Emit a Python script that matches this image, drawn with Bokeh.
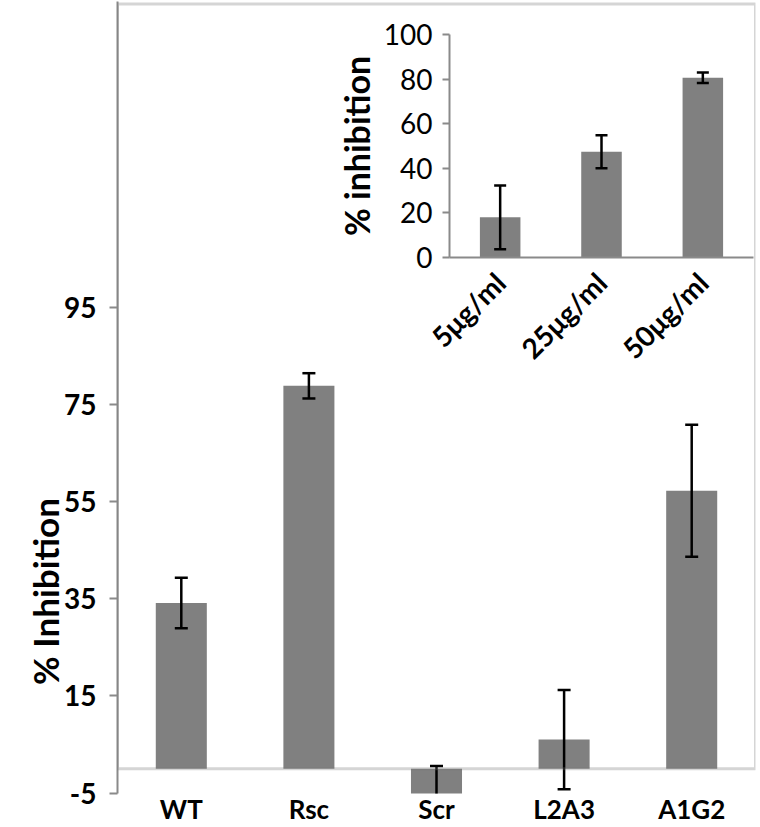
from math import pi
from bokeh.plotting import figure
from bokeh.models import (FactorRange, Range1d, FixedTicker, BoxAnnotation,
                          ColumnDataSource)
from bokeh.layouts import column
from bokeh.embed import file_html
from bokeh.resources import INLINE

# ---------------- data ----------------
categories = ["WT", "Rsc", "Scr", "L2A3", "A1G2"]
inhibition = [34.1, 78.8, -5.2, 6.0, 57.2]
inhibition_err = [5.2, 2.6, 5.75, 10.2, 13.6]
main_ticks = [-5, 15, 35, 55, 75, 95]

doses = ["5μg/ml", "25μg/ml", "50μg/ml"]
dose_inhibition = [18.0, 47.4, 80.6]
dose_err = [14.3, 7.4, 2.4]
inset_ticks = [0, 20, 40, 60, 80, 100]

FONT = "Lato"
BAR = "#808080"
AXIS = "#8a8a8a"
BOX = "#737373"

W, H = 760, 827
BOX_TOP = 157.4          # top edge of the chart box, in data units

# ---------------- main chart ----------------
src = ColumnDataSource(dict(
    cat=categories, val=inhibition,
    lo=[v - e for v, e in zip(inhibition, inhibition_err)],
    hi=[v + e for v, e in zip(inhibition, inhibition_err)],
))

p = figure(x_range=FactorRange(factors=categories, range_padding=0),
           y_range=Range1d(-5.1, BOX_TOP + 0.5),
           width=W, height=H, output_backend="svg", toolbar_location=None,
           min_border_left=104, min_border_right=5, min_border_top=1,
           min_border_bottom=27)
p.outline_line_color = None
p.xgrid.visible = False
p.ygrid.visible = False
p.background_fill_color = "white"
p.border_fill_color = "white"

p.vbar(x="cat", top="val", width=0.4, source=src, fill_color=BAR, line_color=None)
p.add_layout(BoxAnnotation(bottom=0, top=BOX_TOP, fill_alpha=0,
                           line_color=BOX, line_width=3))
p.segment(x0="cat", y0="lo", x1="cat", y1="hi", source=src,
          line_color="black", line_width=2.5)
p.scatter(x="cat", y="hi", source=src, marker="dash", size=13,
          line_color="black", line_width=2.5)
p.scatter(x="cat", y="lo", source=src, marker="dash", size=13,
          line_color="black", line_width=2.5)

xa = p.xaxis[0]
xa.axis_line_color = None
xa.major_tick_line_color = None
xa.major_tick_out = 0
xa.major_tick_in = 0
xa.major_label_standoff = -1
xa.major_label_text_font = FONT
xa.major_label_text_font_style = "bold"
xa.major_label_text_font_size = "26px"
xa.major_label_text_color = "black"

ya = p.yaxis[0]
ya.ticker = FixedTicker(ticks=main_ticks)
ya.major_label_overrides = {-5: "-5"}
ya.axis_line_color = AXIS
ya.axis_line_width = 2
ya.major_tick_line_color = AXIS
ya.major_tick_line_width = 2
ya.major_tick_out = 8
ya.major_tick_in = 0
ya.minor_tick_line_color = None
ya.major_label_standoff = 13
ya.major_label_text_font = FONT
ya.major_label_text_font_style = "bold"
ya.major_label_text_font_size = "28px"
ya.major_label_text_color = "black"

# ---------------- inset ----------------
isrc = ColumnDataSource(dict(
    dose=doses, val=dose_inhibition,
    lo=[v - e for v, e in zip(dose_inhibition, dose_err)],
    hi=[v + e for v, e in zip(dose_inhibition, dose_err)],
))

IL, IT = 332, 12
IB_LEFT, IB_TOP, IB_BOTTOM, IB_RIGHT = 117, 22, 140, 3
IW = 755 + IB_RIGHT - IL
IH = IB_TOP + 223 + IB_BOTTOM
q = figure(x_range=FactorRange(factors=doses), y_range=Range1d(0, 100),
           width=IW, height=IH, output_backend="svg", toolbar_location=None,
           min_border_left=IB_LEFT, min_border_right=IB_RIGHT,
           min_border_top=IB_TOP, min_border_bottom=IB_BOTTOM)
q.outline_line_color = None
q.background_fill_color = None
q.border_fill_color = None
q.xgrid.visible = False
q.ygrid.visible = False

q.vbar(x="dose", top="val", width=0.4, source=isrc, fill_color=BAR, line_color=None)
q.segment(x0="dose", y0="lo", x1="dose", y1="hi", source=isrc,
          line_color="black", line_width=2.5)
q.scatter(x="dose", y="hi", source=isrc, marker="dash", size=12,
          line_color="black", line_width=2.5)
q.scatter(x="dose", y="lo", source=isrc, marker="dash", size=12,
          line_color="black", line_width=2.5)

qx = q.xaxis[0]
qx.axis_line_color = AXIS
qx.axis_line_width = 2
qx.major_tick_line_color = None
qx.major_tick_out = 0
qx.major_tick_in = 0
qx.major_label_orientation = pi / 4
qx.major_label_standoff = 20
qx.major_label_text_font = FONT
qx.major_label_text_font_style = "bold"
qx.major_label_text_font_size = "28px"
qx.major_label_text_color = "black"

qy = q.yaxis[0]
qy.ticker = FixedTicker(ticks=inset_ticks)
qy.axis_line_color = AXIS
qy.axis_line_width = 2
qy.major_tick_line_color = AXIS
qy.major_tick_line_width = 2
qy.major_tick_out = 7
qy.major_tick_in = 0
qy.minor_tick_line_color = None
qy.major_label_standoff = 10
qy.major_label_text_font = FONT
qy.major_label_text_font_size = "28px"
qy.major_label_text_color = "black"
qy.axis_label = "% inhibition"
qy.axis_label_standoff = 4
qy.axis_label_text_font = FONT
qy.axis_label_text_font_style = "bold"
qy.axis_label_text_font_size = "34px"
qy.axis_label_text_color = "black"

# ---------------- main y-axis title (transparent overlay, centred at y=591) ----
TL, TT, TW, TH = 0, 481, 70, 220
t = figure(width=TW, height=TH, x_range=Range1d(0, 1), y_range=Range1d(0, 1),
           output_backend="svg", toolbar_location=None,
           min_border_left=46, min_border_right=0, min_border_top=0,
           min_border_bottom=0)
t.outline_line_color = None
t.background_fill_color = None
t.border_fill_color = None
t.xaxis.visible = False
t.xgrid.visible = False
t.ygrid.visible = False
ty = t.yaxis[0]
ty.ticker = FixedTicker(ticks=[])
ty.axis_line_color = None
ty.major_tick_line_color = None
ty.minor_tick_line_color = None
ty.axis_label = "% Inhibition"
ty.axis_label_standoff = 0
ty.axis_label_text_font = FONT
ty.axis_label_text_font_style = "bold"
ty.axis_label_text_font_size = "35px"
ty.axis_label_text_color = "black"

# overlay: pull each later child up over the main figure, keep column height = H
q_mt = IT - H
q.margin = (q_mt, 0, -q_mt - IH, IL)
t_mt = TT - H
t.margin = (t_mt, 0, -t_mt - TH, TL)

layout = column(p, q, t)
open("out.html", "w").write(file_html(layout, INLINE))
